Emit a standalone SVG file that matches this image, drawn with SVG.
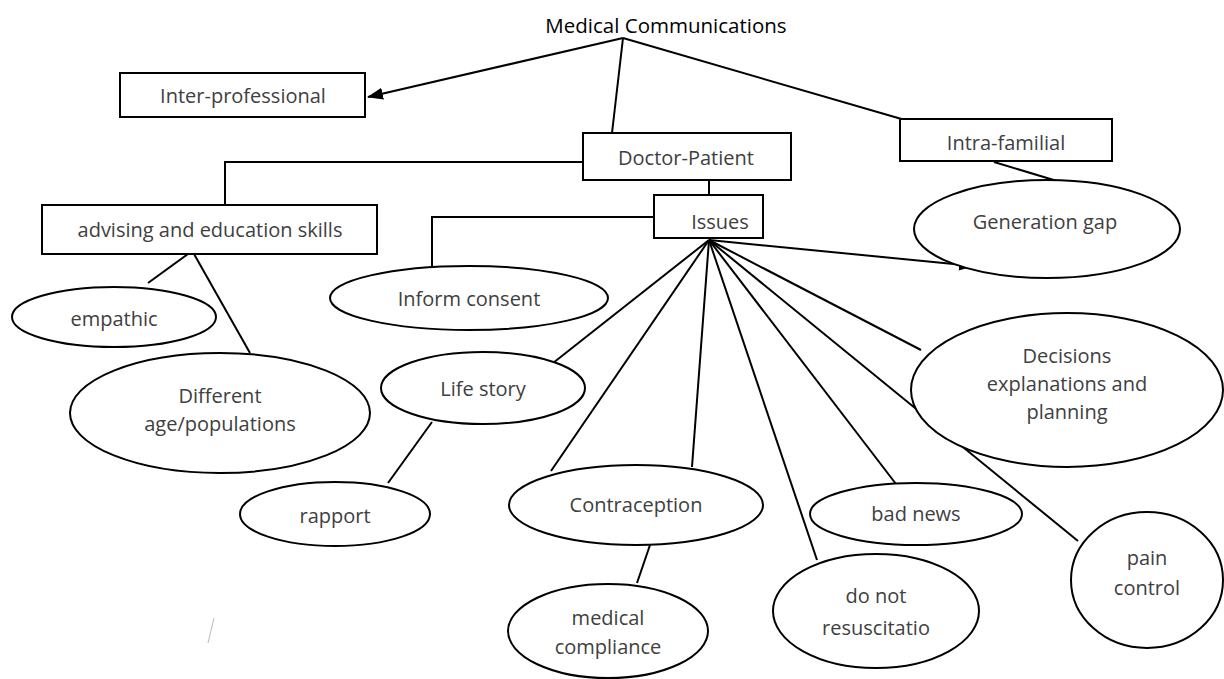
<svg xmlns="http://www.w3.org/2000/svg" width="1224" height="679" viewBox="0 0 1224 679">
<defs>
<marker id="arr" markerUnits="userSpaceOnUse" markerWidth="16" markerHeight="12" refX="15" refY="6" orient="auto">
<path d="M0,0 L16,6 L0,12 Z" fill="#000"/>
</marker>
<style>
.box{fill:#fff;stroke:#000;stroke-width:2}
.ell{fill:#fff;stroke:#000;stroke-width:2}
.t{font-family:"Open Sans","Liberation Sans",sans-serif;font-size:20px;fill:#404040;text-anchor:middle;dominant-baseline:central}
.title{font-family:"Open Sans","Liberation Sans",sans-serif;font-size:20.5px;fill:#000;text-anchor:middle;dominant-baseline:central}
.ln{fill:none;stroke:#000;stroke-width:2}
</style>
</defs>
<rect width="1224" height="679" fill="#fff"/>
<g id="connectors">
<line class="ln" x1="623" y1="38" x2="368" y2="97" marker-end="url(#arr)"/>
<line class="ln" x1="623" y1="38" x2="612" y2="133"/>
<line class="ln" x1="623" y1="38" x2="905" y2="120"/>
<polyline class="ln" points="583,162 225,162 225,205"/>
<line class="ln" x1="709" y1="180" x2="709" y2="195"/>
<polyline class="ln" points="654,217 432,217 432,266"/>
<line class="ln" x1="994" y1="162" x2="1057" y2="181"/>
<line class="ln" x1="709" y1="240" x2="974" y2="266" marker-end="url(#arr)"/>
<line class="ln" x1="188" y1="254" x2="148" y2="283"/>
<line class="ln" x1="194" y1="254" x2="250" y2="353"/>
<line class="ln" x1="432" y1="422" x2="388" y2="483"/>
<line class="ln" x1="709" y1="240" x2="553" y2="363"/>
<line class="ln" x1="709" y1="240" x2="551" y2="471"/>
<line class="ln" x1="709" y1="240" x2="692" y2="467"/>
<line class="ln" x1="709" y1="240" x2="817" y2="560"/>
<line class="ln" x1="709" y1="240" x2="896" y2="484"/>
<line class="ln" x1="709" y1="240" x2="1078" y2="541"/>
<line class="ln" x1="709" y1="240" x2="921" y2="350"/>
<line class="ln" x1="650" y1="545" x2="637" y2="583"/>
</g>
<g id="n-title"><text class="title" x="666" y="25">Medical Communications</text></g>
<g id="n-inter"><rect class="box" x="120" y="73" width="245" height="44"/><text class="t" x="243" y="95">Inter-professional</text></g>
<g id="n-doctor"><rect class="box" x="583" y="133" width="208" height="47"/><text class="t" x="686" y="157">Doctor-Patient</text></g>
<g id="n-intra"><rect class="box" x="900" y="119" width="212" height="42"/><text class="t" x="1006" y="142">Intra-familial</text></g>
<g id="n-advising"><rect class="box" x="42" y="205" width="335" height="49"/><text class="t" x="210" y="229">advising and education skills</text></g>
<g id="n-issues"><rect class="box" x="654" y="195" width="109" height="43"/><text class="t" x="720" y="221">Issues</text></g>
<g id="n-gen"><ellipse class="ell" cx="1047" cy="229" rx="133" ry="49"/><text class="t" x="1045" y="221">Generation gap</text></g>
<g id="n-inform"><ellipse class="ell" cx="469" cy="298" rx="139" ry="32"/><text class="t" x="469" y="298">Inform consent</text></g>
<g id="n-empathic"><ellipse class="ell" cx="114" cy="317" rx="102" ry="30"/><text class="t" x="114" y="318">empathic</text></g>
<g id="n-different"><ellipse class="ell" cx="220" cy="413" rx="150" ry="60"/><text class="t" x="220" y="395">Different</text><text class="t" x="220" y="423">age/populations</text></g>
<g id="n-life"><ellipse class="ell" cx="483" cy="388" rx="102" ry="36"/><text class="t" x="483" y="388">Life story</text></g>
<g id="n-rapport"><ellipse class="ell" cx="335" cy="514" rx="95" ry="32"/><text class="t" x="335" y="515">rapport</text></g>
<g id="n-decisions"><ellipse class="ell" cx="1067" cy="390" rx="156" ry="77"/><text class="t" x="1067" y="355">Decisions</text><text class="t" x="1067" y="383">explanations and</text><text class="t" x="1067" y="411">planning</text></g>
<g id="n-contra"><ellipse class="ell" cx="636" cy="505" rx="127" ry="40"/><text class="t" x="636" y="504">Contraception</text></g>
<g id="n-bad"><ellipse class="ell" cx="916" cy="514" rx="106" ry="31"/><text class="t" x="916" y="513">bad news</text></g>
<g id="n-dnr"><ellipse class="ell" cx="876" cy="611" rx="103" ry="57"/><text class="t" x="876" y="595">do not</text><text class="t" x="876" y="627">resuscitatio</text></g>
<g id="n-pain"><ellipse class="ell" cx="1147" cy="580" rx="76" ry="68"/><text class="t" x="1147" y="557">pain</text><text class="t" x="1147" y="587">control</text></g>
<g id="n-compliance"><ellipse class="ell" cx="608" cy="631" rx="100" ry="47"/><text class="t" x="608" y="617">medical</text><text class="t" x="608" y="646">compliance</text></g>
<line x1="214" y1="618" x2="208" y2="643" stroke="#bbb" stroke-width="1"/>
</svg>
